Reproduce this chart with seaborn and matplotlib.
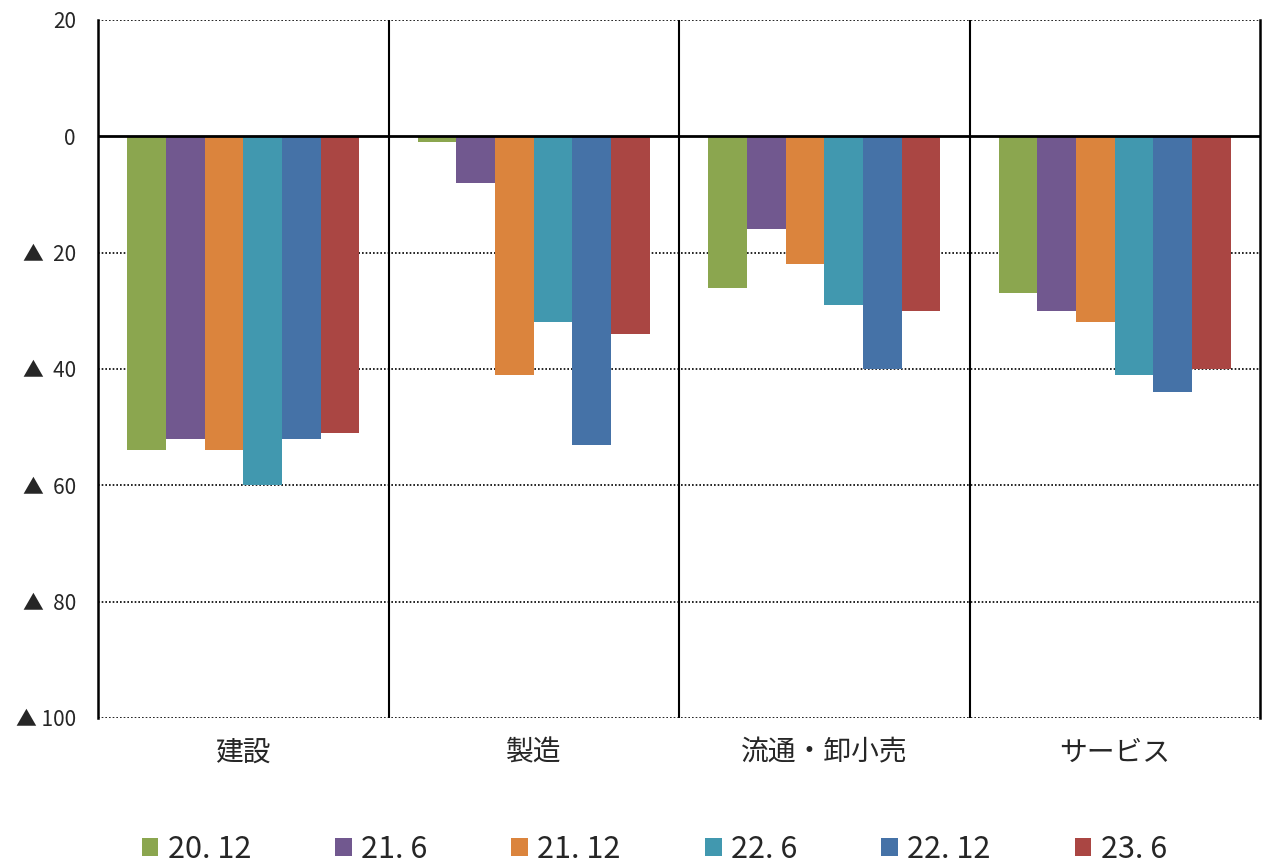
import matplotlib
matplotlib.use("Agg")
import matplotlib.pyplot as plt
from matplotlib.patches import Patch
import seaborn as sns
import pandas as pd

categories = ["建設", "製造", "流通・卸小売", "サービス"]
periods = ["20. 12", "21. 6", "21. 12", "22. 6", "22. 12", "23. 6"]
colors = ["#8BA64F", "#71588F", "#DB843D", "#4198AF", "#4572A7", "#AA4643"]

v_2012 = [-54, -1, -26, -27]
v_2106 = [-52, -8, -16, -30]
v_2112 = [-54, -41, -22, -32]
v_2206 = [-60, -32, -29, -41]
v_2212 = [-52, -53, -40, -44]
v_2306 = [-51, -34, -30, -40]

yticks = [20, 0, -20, -40, -60, -80, -100]
ytick_labels = ["20", "0", "▲  20", "▲  40", "▲  60", "▲  80", "▲ 100"]

series = [v_2012, v_2106, v_2112, v_2206, v_2212, v_2306]
rows = []
for p, vals in zip(periods, series):
    for c, v in zip(categories, vals):
        rows.append({"業種": c, "時点": p, "値": v})
df = pd.DataFrame(rows)

sns.set_style("white")
plt.rcParams["font.family"] = ["Noto Sans CJK JP", "DejaVu Sans"]

fig = plt.figure(figsize=(12.63, 8.68), dpi=100)
ax = fig.add_axes([98 / 1263, 1 - 718 / 868, (1260 - 98) / 1263, (718 - 20) / 868])

sns.barplot(data=df, x="業種", y="値", hue="時点", order=categories,
            hue_order=periods, palette=colors, width=0.8, saturation=1,
            edgecolor="none", linewidth=0, legend=False, ax=ax, zorder=2)

ax.set_xlim(-0.5, len(categories) - 0.5)
ax.set_ylim(-100, 20)
ax.set_yticks(yticks)
ax.set_yticklabels(ytick_labels, fontsize=15)
ax.tick_params(axis="y", length=0, pad=16)
ax.tick_params(axis="x", length=0, pad=14, labelsize=20)
ax.set_xlabel("")
ax.set_ylabel("")

# dotted horizontal grid, solid zero line
for y in yticks:
    if y == 0:
        ax.axhline(0, color="black", lw=2, zorder=3)
    else:
        ax.axhline(y, color="black", lw=1.2, ls=(0, (1, 1.2)), zorder=1)

# solid separators between industry groups
for x in range(1, len(categories)):
    ax.axvline(x - 0.5, color="black", lw=1.5, zorder=3)

for side in ["top", "bottom"]:
    ax.spines[side].set_visible(False)
for side in ["left", "right"]:
    ax.spines[side].set_visible(True)
    ax.spines[side].set_color("black")
    ax.spines[side].set_linewidth(1.8)

handles = [Patch(facecolor=c, edgecolor="none") for c in colors]
fig.legend(handles, periods, loc="lower center", ncol=6, frameon=False,
           bbox_to_anchor=(0.518, -0.028), fontsize=22, handlelength=0.55,
           handleheight=0.55, handletextpad=0.3, columnspacing=2.75)

fig.savefig("out.png", dpi=100, facecolor="white")
